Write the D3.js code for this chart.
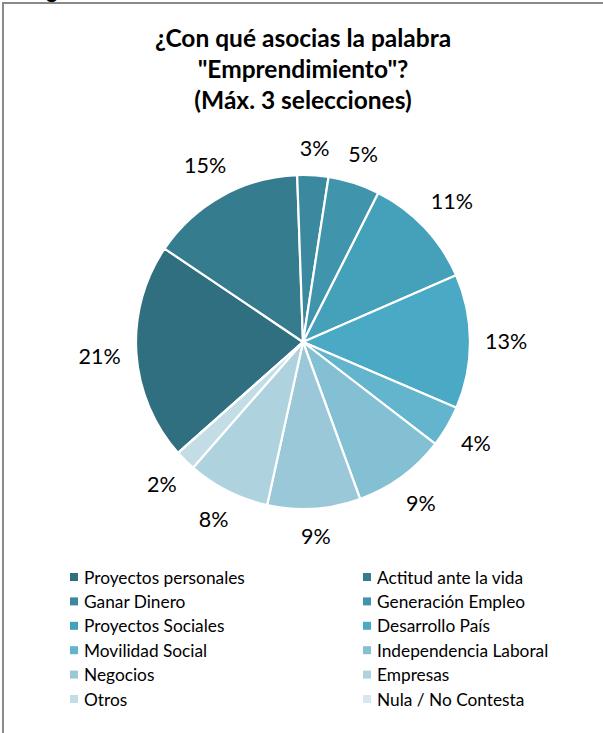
<!DOCTYPE html>
<html><head><meta charset="utf-8">
<script src="https://cdn.jsdelivr.net/npm/d3@7"></script>
<style>body{margin:0;background:#fff}svg{display:block}</style>
</head><body>
<svg id="c" width="603" height="733"></svg>
<script>
const categories = ["Proyectos personales","Actitud ante la vida","Ganar Dinero","Generación Empleo","Proyectos Sociales","Desarrollo País","Movilidad Social","Independencia Laboral","Negocios","Empresas","Otros","Nula / No Contesta"];
const values = [21,15,3,5,11,13,4,9,9,8,2,0];
const colors = ["#2F6F7F","#357C8E","#3A899E","#4095AD","#45A1BA","#4AA9C4","#62B5CD","#83C0D3","#9BC8D8","#AFD2DF","#C3DDE6","#D6E8EE"];
const titleLines = ["¿Con qué asocias la palabra","\"Emprendimiento\"?","(Máx. 3 selecciones)"];

const svg = d3.select("#c");
const font = "Lato, 'Open Sans', sans-serif";

// frame
svg.append("text").attr("x",28).attr("y",-2).attr("font-family",font).attr("font-weight","bold").attr("font-size",22).attr("fill","#000").text("Fig");
svg.append("rect").attr("x",3).attr("y",3).attr("width",640).attr("height",760).attr("fill","#fff").attr("stroke","#8a8a8a").attr("stroke-width",2);

// title
svg.append("g").selectAll("text").data(titleLines).join("text")
  .attr("x",303).attr("y",(d,i)=>47+i*31)
  .attr("text-anchor","middle").attr("font-family",font).attr("font-weight","bold")
  .attr("font-size",24.5).attr("fill","#000").text(d=>d);

// pie
const cx=303, cy=342, r=167;
const deg = Math.PI/180;
const start = -131.6*deg;
const pie = d3.pie().sort(null).value(d=>d.v).startAngle(start).endAngle(start+2*Math.PI);
const data = categories.map((c,i)=>({c, v:values[i], col:colors[i]}));
const arcs = pie(data);
const arc = d3.arc().innerRadius(0).outerRadius(r);
const g = svg.append("g").attr("transform",`translate(${cx},${cy})`);
g.selectAll("path").data(arcs).join("path")
  .attr("d",arc).attr("fill",d=>d.data.col).attr("stroke","#fff").attr("stroke-width",2.2)
  .attr("stroke-linejoin","round");

// labels
const lab = g.selectAll("text").data(arcs.filter(d=>d.data.v>0)).join("text")
  .attr("font-family",font).attr("font-size",21.5).attr("fill","#000")
  .attr("text-anchor","middle").attr("dominant-baseline","central")
  .text(d=>d.data.v+"%");
lab.each(function(d){
  const w = this.getComputedTextLength()/2, h = 11;
  const a = (d.startAngle+d.endAngle)/2;
  const s = Math.sin(a), c = -Math.cos(a);
  const R = r + 15 + Math.abs(s)*w + Math.abs(c)*h;
  d3.select(this).attr("x", s*R).attr("y", c*R);
});

// legend
const lg = svg.append("g");
const items = lg.selectAll("g").data(data).join("g")
  .attr("transform",(d,i)=>`translate(${i%2===0?70:363},${577+Math.floor(i/2)*24.4})`);
items.append("rect").attr("x",0).attr("y",-4).attr("width",8).attr("height",8).attr("fill",d=>d.col);
items.append("text").attr("x",14).attr("y",0).attr("dominant-baseline","central")
  .attr("font-family",font).attr("font-size",17.3).attr("fill","#000").text(d=>d.c);
</script>
</body></html>
